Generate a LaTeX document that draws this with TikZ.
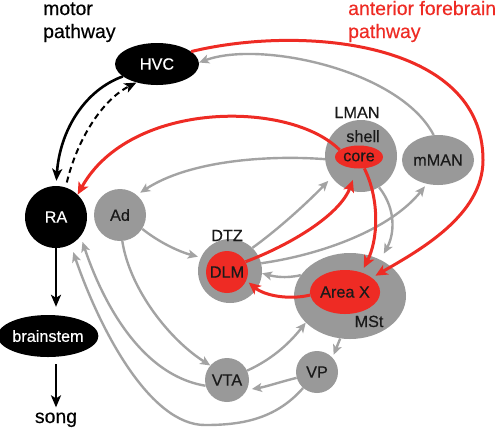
\documentclass[tikz,border=0pt]{standalone}
\usepackage{fontspec}
\setmainfont{Liberation Sans}[FakeBold=0.4]
\usetikzlibrary{arrows.meta,shapes.geometric}
\definecolor{afred}{HTML}{EE2B24}
\definecolor{nodegray}{HTML}{999999}
\definecolor{linegray}{HTML}{A3A3A3}
\definecolor{txtdark}{HTML}{1A1A1A}
\begin{document}
\begin{tikzpicture}[x=1bp,y=-1bp,
  gline/.style={-{Stealth[length=10bp,width=9bp,inset=2.5bp]}, draw=linegray, line width=2.4bp},
  rline/.style={-{Stealth[length=12bp,width=11bp,inset=3bp]}, draw=afred, line width=3bp},
  bline/.style={-{Stealth[length=12bp,width=10bp,inset=3bp]}, draw=black, line width=2.6bp},
  nfont/.style={font=\fontsize{16.3}{19}\selectfont, inner sep=0pt},
  lab/.style={nfont, text=txtdark},
  titletext/.style={font=\fontsize{19.5}{23}\selectfont, inner sep=0pt, anchor=base west},
  blknode/.style={nfont, fill=black, text=white},
  graynode/.style={nfont, fill=nodegray, text=txtdark},
  rednode/.style={nfont, fill=afred, text=txtdark}
]
\useasboundingbox (0,0) rectangle (499,429);

% titles
\node[titletext] (mt1) at (43,15) {motor};
\node[titletext] (mt2) at (43,38) {pathway};
\node[titletext, text=afred] (at1) at (348,15) {anterior forebrain};
\node[titletext, text=afred] (at2) at (348,38) {pathway};

% nodes
\node[ellipse, blknode, minimum width=84bp, minimum height=42bp] (HVC) at (157,64) {HVC};
\node[circle, blknode, minimum size=62bp] (RA) at (56,217) {RA};
\node[ellipse, blknode, minimum width=94bp, minimum height=42bp] (bs) at (48,336) {brainstem};
\node[titletext, anchor=base] (song) at (56,423) {song};
\node[circle, graynode, minimum size=52bp] (Ad) at (120,215) {Ad};
\node[circle, graynode, minimum size=72bp] (shell) at (361,156) {};
\node[ellipse, rednode, minimum width=48bp, minimum height=23bp] (core) at (359,157) {core};
\node[ellipse, graynode, minimum width=72bp, minimum height=50bp] (mMAN) at (438,160) {mMAN};
\node[circle, graynode, minimum size=64bp] (DTZ) at (230,271) {};
\node[circle, rednode, minimum size=42bp] (DLM) at (227,272) {DLM};
\node[ellipse, graynode, minimum width=112bp, minimum height=86bp] (MSt) at (350,296) {};
\node[ellipse, rednode, minimum width=66bp, minimum height=44bp] (AreaX) at (345,292) {Area X};
\node[circle, graynode, minimum size=42bp] (VP) at (317,372) {VP};
\node[circle, graynode, minimum size=44bp] (VTA) at (227,380) {VTA};

% region labels
\node[lab, anchor=base] (lLMAN) at (357,118) {LMAN};
\node[lab, anchor=base] (lshell) at (363,142) {shell};
\node[lab, anchor=base] (lDTZ) at (227,241) {DTZ};
\node[lab, anchor=base] (lMSt) at (369,327) {MSt};

% helper coordinates
\coordinate (afturn) at (483,160);
\coordinate (vpbend) at (205,425);

% motor pathway
\draw[bline, shorten >=5bp] (HVC.200) .. controls (85,90) and (60,130) .. (RA.north);
\draw[bline, line width=2bp, dash pattern=on 6bp off 4bp, shorten <=5bp] (RA.72) .. controls (77,140) and (102,100) .. (HVC.222);
\draw[bline, shorten >=8bp] (RA.south) -- (RA.south |- bs.north);
\draw[bline, shorten <=7bp, shorten >=5bp] (RA.south |- bs.south) -- (RA.south |- song.north);

% gray connections
\draw[gline] (mMAN.100) .. controls (400,70) and (260,40) .. (HVC.2);
\draw[gline, shorten >=4bp] (shell.185) .. controls (270,155) and (190,160) .. (Ad.50);
\draw[gline, shorten >=3bp] (Ad.-32) .. controls (160,243) and (180,252) .. (DTZ.155);
\draw[gline, shorten >=5bp] (DTZ.46) .. controls (280,228) and (310,200) .. (shell.216);
\draw[gline, shorten >=3bp] (DTZ.14) .. controls (320,255) and (390,230) .. (mMAN.245);
\draw[gline, shorten >=7bp] (shell.-60) .. controls (397,210) and (394,235) .. (MSt.50);
\draw[gline] (MSt.157) .. controls (285,279) and (272,276) .. (DTZ.-4);
\draw[gline, shorten >=3bp] (MSt.257) -- (VP.43);
\draw[gline, shorten >=5bp] (VP.196) .. controls (280,382) and (265,387) .. (VTA.-26);
\draw[gline] (VTA.25) .. controls (275,358) and (292,340) .. (MSt.211);
\draw[gline] (Ad.-85) .. controls (130,290) and (170,340) .. (VTA.139);
\draw[gline, shorten >=6bp] (VTA.195) .. controls (140,375) and (102,300) .. (RA.-38);
\draw[gline, shorten >=8bp] (VP.229) .. controls (275,420) and (240,425) .. (vpbend)
  .. controls (150,425) and (100,330) .. (RA.-62);

% red (anterior forebrain) connections
\draw[rline] (core.160) .. controls (290,100) and (130,100) .. (RA.46);
\draw[rline, shorten >=4bp] (HVC.20) .. controls (300,25) and (483,40) .. (afturn)
  .. controls (483,215) and (420,250) .. (AreaX.28);
\draw[rline, shorten >=12bp] (DLM.29) .. controls (290,245) and (340,215) .. (core.-100);
\draw[rline, shorten >=5bp] (core.-65) .. controls (380,200) and (378,240) .. (AreaX.50);
\draw[rline, shorten >=3bp] (AreaX.185) .. controls (290,300) and (265,296) .. (DLM.-24);
\end{tikzpicture}
\end{document}
